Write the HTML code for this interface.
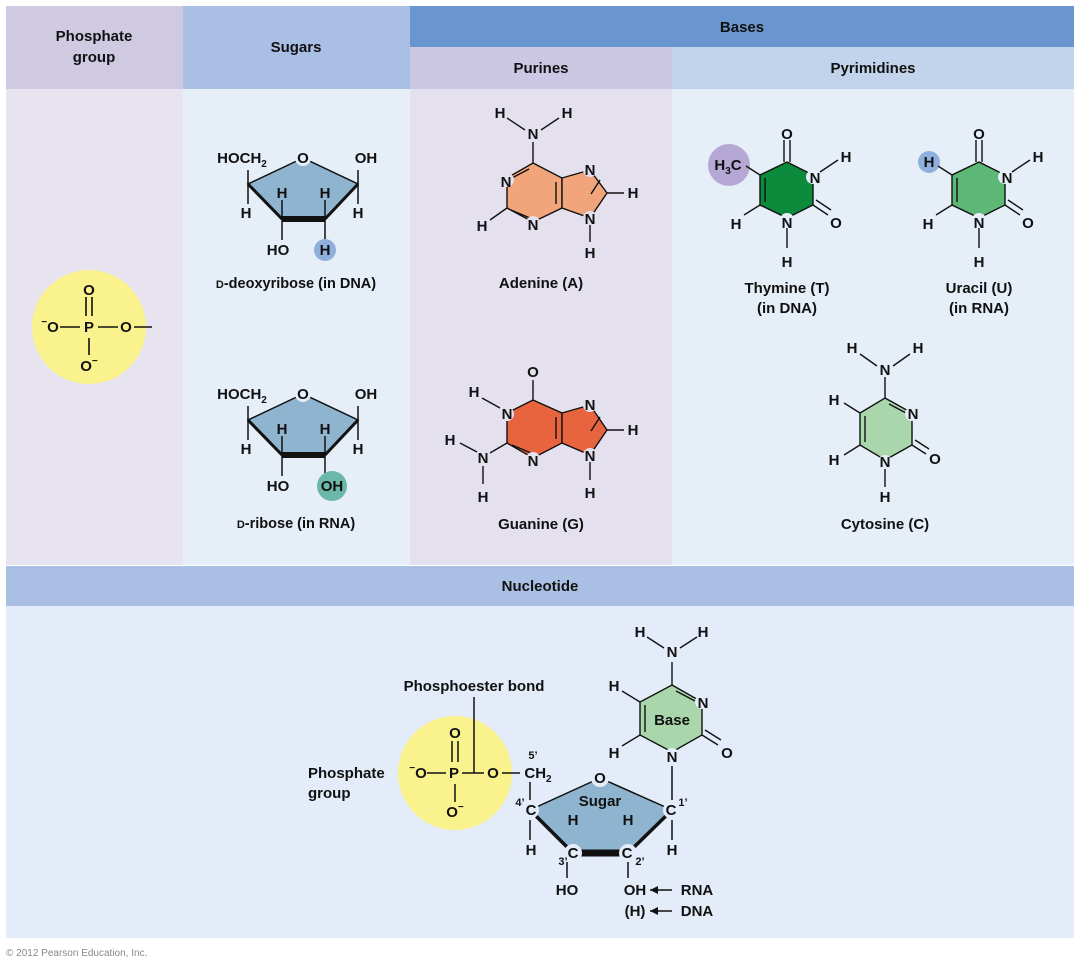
<!DOCTYPE html>
<html><head><meta charset="utf-8"><style>
html,body{margin:0;padding:0;background:#fff;}
svg{display:block;}
text{font-family:"Liberation Sans",Arial,sans-serif;font-weight:bold;fill:#111;}
</style></head><body>
<svg width="1080" height="966" viewBox="0 0 1080 966" xmlns="http://www.w3.org/2000/svg">
<!-- headers -->
<rect x="6" y="6" width="177" height="83" fill="#cfc9e2"/>
<rect x="183" y="6" width="227" height="83" fill="#a9bfe4"/>
<rect x="410" y="6" width="664" height="41" fill="#6a96d0"/>
<rect x="410" y="47" width="262" height="42" fill="#ccc7e2"/>
<rect x="672" y="47" width="402" height="42" fill="#c2d3ec"/>
<!-- bodies -->
<rect x="6" y="89" width="177" height="476" fill="#e7e3ef"/>
<rect x="183" y="89" width="227" height="476" fill="#e6eef8"/>
<rect x="410" y="89" width="262" height="476" fill="#e4e0ee"/>
<rect x="672" y="89" width="402" height="476" fill="#e6eef8"/>
<rect x="6" y="566" width="1068" height="40" fill="#a9c0e4"/>
<rect x="6" y="606" width="1068" height="332" fill="#e3ecf8"/>

<g font-size="15" text-anchor="middle">
<text x="94" y="41">Phosphate</text><text x="94" y="62">group</text>
<text x="296" y="52">Sugars</text>
<text x="742" y="32">Bases</text>
<text x="541" y="73">Purines</text>
<text x="873" y="73">Pyrimidines</text>
<text x="540" y="591">Nucleotide</text>
</g>

<g stroke="#111" stroke-width="1.6" fill="none">
<!-- phosphate -->
</g>
<circle cx="89" cy="327" r="57" fill="#faf28c"/>
<g stroke="#111" stroke-width="1.6">
<line x1="86" y1="297" x2="86" y2="316"/><line x1="92" y1="297" x2="92" y2="316"/>
<line x1="89" y1="338" x2="89" y2="355"/>
<line x1="60" y1="327" x2="80" y2="327"/><line x1="98" y1="327" x2="118" y2="327"/>
<line x1="134" y1="327" x2="152" y2="327"/>
</g>
<g font-size="15" text-anchor="middle">
<text x="89" y="295">O</text><text x="89" y="332">P</text><text x="89" y="371">O<tspan font-size="10" dy="-7">−</tspan></text>
<text x="50" y="332"><tspan font-size="10" dy="-7">−</tspan><tspan dy="7">O</tspan></text>
<text x="126" y="332">O</text>
</g>

<!-- deoxyribose -->
<g id="sug">
<polygon points="303,158 248,184 282,219 325,219 358,184" fill="#8fb4cf" stroke="#111" stroke-width="1.5"/>
<line x1="282" y1="219" x2="325" y2="219" stroke="#111" stroke-width="6"/>
<line x1="248" y1="184" x2="282" y2="219" stroke="#111" stroke-width="3"/>
<line x1="358" y1="184" x2="325" y2="219" stroke="#111" stroke-width="3"/>
<g stroke="#111" stroke-width="1.5">
<line x1="248" y1="170" x2="248" y2="204"/><line x1="358" y1="170" x2="358" y2="204"/>
<line x1="282" y1="200" x2="282" y2="219"/><line x1="325" y1="200" x2="325" y2="219"/>
<line x1="282" y1="219" x2="282" y2="240"/><line x1="325" y1="219" x2="325" y2="240"/>
</g>
<circle cx="303" cy="158" r="8" fill="#e6eef8"/>
<g font-size="15" text-anchor="middle">
<text x="303" y="163">O</text>
<text x="242" y="163">HOCH<tspan font-size="10" dy="4">2</tspan></text>
<text x="366" y="163">OH</text>
<text x="282" y="198">H</text><text x="325" y="198">H</text>
<text x="246" y="218">H</text><text x="358" y="218">H</text>
<text x="278" y="255">HO</text>
</g>
</g>
<circle cx="325" cy="250" r="11" fill="#8fb0dd"/>
<text x="325" y="255" font-size="15" text-anchor="middle">H</text>
<text x="296" y="288" font-size="14.5" text-anchor="middle"><tspan font-size="11">D</tspan>-deoxyribose (in DNA)</text>

<!-- ribose -->
<g transform="translate(0,236)">
<polygon points="303,158 248,184 282,219 325,219 358,184" fill="#8fb4cf" stroke="#111" stroke-width="1.5"/>
<line x1="282" y1="219" x2="325" y2="219" stroke="#111" stroke-width="6"/>
<line x1="248" y1="184" x2="282" y2="219" stroke="#111" stroke-width="3"/>
<line x1="358" y1="184" x2="325" y2="219" stroke="#111" stroke-width="3"/>
<g stroke="#111" stroke-width="1.5">
<line x1="248" y1="170" x2="248" y2="204"/><line x1="358" y1="170" x2="358" y2="204"/>
<line x1="282" y1="200" x2="282" y2="219"/><line x1="325" y1="200" x2="325" y2="219"/>
<line x1="282" y1="219" x2="282" y2="240"/><line x1="325" y1="219" x2="325" y2="238"/>
</g>
<circle cx="303" cy="158" r="8" fill="#e6eef8"/>
<g font-size="15" text-anchor="middle">
<text x="303" y="163">O</text>
<text x="242" y="163">HOCH<tspan font-size="10" dy="4">2</tspan></text>
<text x="366" y="163">OH</text>
<text x="282" y="198">H</text><text x="325" y="198">H</text>
<text x="246" y="218">H</text><text x="358" y="218">H</text>
<text x="278" y="255">HO</text>
</g>
</g>
<circle cx="332" cy="486" r="15" fill="#6bb8a8"/>
<text x="332" y="491" font-size="15" text-anchor="middle">OH</text>
<text x="296" y="528" font-size="14.5" text-anchor="middle"><tspan font-size="11">D</tspan>-ribose (in RNA)</text>

<!-- adenine -->
<polygon points="533,163 562,178 562,208 533,222 507,208 507,178" fill="#f2a57a" stroke="#111" stroke-width="1.4"/>
<polygon points="562,178 590,170 607,193 590,218 562,208" fill="#f2a57a" stroke="#111" stroke-width="1.4"/>
<g stroke="#111" stroke-width="1.4">
<line x1="533" y1="142" x2="533" y2="163"/><line x1="525" y1="130" x2="507" y2="118"/><line x1="541" y1="130" x2="559" y2="118"/>
<line x1="607" y1="193" x2="624" y2="193"/><line x1="590" y1="224" x2="590" y2="242"/><line x1="507" y1="208" x2="490" y2="220"/>
<line x1="556" y1="182" x2="556" y2="204"/><line x1="529" y1="169" x2="512" y2="178"/><line x1="511" y1="210" x2="530" y2="218"/><line x1="600" y1="180" x2="591" y2="194"/>
</g>
<g fill="#e4e0ee"><circle cx="507" cy="180" r="7"/><circle cx="533" cy="223" r="7"/><circle cx="590" cy="170" r="7"/><circle cx="590" cy="218" r="7"/></g>
<g font-size="15" text-anchor="middle">
<text x="533" y="139">N</text><text x="500" y="118">H</text><text x="567" y="118">H</text>
<text x="506" y="187">N</text><text x="533" y="230">N</text><text x="590" y="175">N</text><text x="590" y="224">N</text>
<text x="633" y="198">H</text><text x="590" y="258">H</text><text x="482" y="231">H</text>
<text x="541" y="288">Adenine (A)</text>
</g>

<!-- guanine -->
<polygon points="533,400 562,413 562,443 533,458 507,443 507,413" fill="#e8643f" stroke="#111" stroke-width="1.4"/>
<polygon points="562,413 590,405 607,430 590,455 562,443" fill="#e8643f" stroke="#111" stroke-width="1.4"/>
<g stroke="#111" stroke-width="1.4">
<line x1="533" y1="380" x2="533" y2="400"/>
<line x1="500" y1="408" x2="482" y2="398"/>
<line x1="507" y1="443" x2="490" y2="453"/><line x1="477" y1="452" x2="460" y2="443"/><line x1="483" y1="466" x2="483" y2="484"/>
<line x1="607" y1="430" x2="624" y2="430"/><line x1="590" y1="461" x2="590" y2="480"/>
<line x1="556" y1="417" x2="556" y2="439"/><line x1="512" y1="445" x2="531" y2="453"/><line x1="600" y1="417" x2="591" y2="431"/>
</g>
<g fill="#e4e0ee"><circle cx="507" cy="414" r="7"/><circle cx="533" cy="459" r="7"/><circle cx="590" cy="405" r="7"/><circle cx="590" cy="455" r="7"/></g>
<g font-size="15" text-anchor="middle">
<text x="533" y="377">O</text><text x="507" y="419">N</text><text x="533" y="466">N</text><text x="590" y="410">N</text><text x="590" y="461">N</text>
<text x="474" y="397">H</text><text x="483" y="463">N</text><text x="450" y="445">H</text><text x="483" y="502">H</text>
<text x="633" y="435">H</text><text x="590" y="498">H</text>
<text x="541" y="529">Guanine (G)</text>
</g>

<!-- thymine -->
<circle cx="729" cy="165" r="21" fill="#b5a8d4"/>
<polygon points="787,162 813,175 813,205 787,218 760,205 760,175" fill="#0c8b3c" stroke="#111" stroke-width="1.4"/>
<g stroke="#111" stroke-width="1.4">
<line x1="784" y1="140" x2="784" y2="162"/><line x1="790" y1="140" x2="790" y2="162"/>
<line x1="820" y1="172" x2="838" y2="160"/>
<line x1="813" y1="205" x2="828" y2="215"/><line x1="816" y1="200" x2="831" y2="210"/>
<line x1="787" y1="228" x2="787" y2="248"/>
<line x1="760" y1="205" x2="744" y2="215"/><line x1="760" y1="175" x2="746" y2="166"/>
<line x1="765" y1="178" x2="765" y2="202"/>
</g>
<g fill="#e6eef8"><circle cx="813" cy="177" r="7"/><circle cx="787" cy="220" r="7"/></g>
<g font-size="15" text-anchor="middle">
<text x="787" y="139">O</text><text x="815" y="183">N</text><text x="787" y="228">N</text><text x="836" y="228">O</text>
<text x="846" y="162">H</text><text x="736" y="229">H</text><text x="787" y="267">H</text>
<text x="728" y="170">H<tspan font-size="10" dy="4">3</tspan><tspan dy="-4">C</tspan></text>
<text x="787" y="293">Thymine (T)</text><text x="787" y="313">(in DNA)</text>
</g>

<!-- uracil -->
<circle cx="929" cy="162" r="11" fill="#8fb0dd"/>
<polygon points="979,162 1005,175 1005,205 979,218 952,205 952,175" fill="#5db877" stroke="#111" stroke-width="1.4"/>
<g stroke="#111" stroke-width="1.4">
<line x1="976" y1="140" x2="976" y2="162"/><line x1="982" y1="140" x2="982" y2="162"/>
<line x1="1012" y1="172" x2="1030" y2="160"/>
<line x1="1005" y1="205" x2="1020" y2="215"/><line x1="1008" y1="200" x2="1023" y2="210"/>
<line x1="979" y1="228" x2="979" y2="248"/>
<line x1="952" y1="205" x2="936" y2="215"/><line x1="952" y1="175" x2="938" y2="166"/>
<line x1="957" y1="178" x2="957" y2="202"/>
</g>
<g fill="#e6eef8"><circle cx="1005" cy="177" r="7"/><circle cx="979" cy="220" r="7"/></g>
<g font-size="15" text-anchor="middle">
<text x="979" y="139">O</text><text x="1007" y="183">N</text><text x="979" y="228">N</text><text x="1028" y="228">O</text>
<text x="1038" y="162">H</text><text x="928" y="229">H</text><text x="979" y="267">H</text><text x="929" y="167">H</text>
<text x="979" y="293">Uracil (U)</text><text x="979" y="313">(in RNA)</text>
</g>

<!-- cytosine -->
<polygon points="885,398 912,413 912,445 885,460 860,445 860,413" fill="#a9d6ab" stroke="#111" stroke-width="1.4"/>
<g stroke="#111" stroke-width="1.4">
<line x1="885" y1="377" x2="885" y2="398"/><line x1="877" y1="366" x2="860" y2="354"/><line x1="893" y1="366" x2="910" y2="354"/>
<line x1="860" y1="413" x2="844" y2="403"/><line x1="860" y1="445" x2="844" y2="455"/>
<line x1="912" y1="445" x2="926" y2="454"/><line x1="915" y1="440" x2="929" y2="449"/>
<line x1="885" y1="468" x2="885" y2="487"/>
<line x1="865" y1="416" x2="865" y2="442"/><line x1="889" y1="404" x2="906" y2="413"/>
</g>
<g fill="#e6eef8"><circle cx="912" cy="414" r="7"/><circle cx="885" cy="462" r="7"/></g>
<g font-size="15" text-anchor="middle">
<text x="885" y="375">N</text><text x="852" y="353">H</text><text x="918" y="353">H</text>
<text x="913" y="419">N</text><text x="885" y="467">N</text><text x="935" y="464">O</text>
<text x="834" y="405">H</text><text x="834" y="465">H</text><text x="885" y="502">H</text>
<text x="885" y="529">Cytosine (C)</text>
</g>

<!-- nucleotide -->
<circle cx="455" cy="773" r="57" fill="#faf28c"/>
<g stroke="#111" stroke-width="1.5">
<line x1="452" y1="741" x2="452" y2="762"/><line x1="458" y1="741" x2="458" y2="762"/>
<line x1="455" y1="784" x2="455" y2="802"/>
<line x1="427" y1="773" x2="446" y2="773"/><line x1="462" y1="773" x2="484" y2="773"/>
<line x1="502" y1="773" x2="520" y2="773"/>
<line x1="474" y1="697" x2="474" y2="773"/>
<line x1="530" y1="782" x2="530" y2="800"/><line x1="530" y1="820" x2="530" y2="840"/>
<line x1="567" y1="862" x2="567" y2="878"/><line x1="628" y1="862" x2="628" y2="878"/>
<line x1="573" y1="828" x2="573" y2="843"/><line x1="628" y1="828" x2="628" y2="843"/>
<line x1="672" y1="820" x2="672" y2="840"/><line x1="672" y1="766" x2="672" y2="800"/>
<line x1="650" y1="890" x2="672" y2="890"/><line x1="650" y1="911" x2="672" y2="911"/>
</g>
<polygon points="650,890 658,886 658,894" fill="#111"/><polygon points="650,911 658,907 658,915" fill="#111"/>
<polygon points="600,778 530,810 573,853 628,853 672,810" fill="#8fb4cf" stroke="#111" stroke-width="1.5"/>
<line x1="573" y1="853" x2="628" y2="853" stroke="#111" stroke-width="7"/>
<line x1="530" y1="810" x2="573" y2="853" stroke="#111" stroke-width="3.5"/>
<line x1="672" y1="810" x2="628" y2="853" stroke="#111" stroke-width="3.5"/>
<g fill="#e3ecf8"><circle cx="600" cy="778" r="9"/><circle cx="530" cy="810" r="9"/><circle cx="573" cy="853" r="9"/><circle cx="628" cy="853" r="9"/><circle cx="672" cy="810" r="9"/></g>
<!-- base -->
<polygon points="672,685 702,702 702,735 672,752 640,735 640,702" fill="#a9d6ab" stroke="#111" stroke-width="1.4"/>
<g stroke="#111" stroke-width="1.4">
<line x1="672" y1="662" x2="672" y2="685"/><line x1="664" y1="648" x2="647" y2="637"/><line x1="680" y1="648" x2="697" y2="637"/>
<line x1="640" y1="702" x2="622" y2="691"/><line x1="640" y1="735" x2="622" y2="746"/>
<line x1="702" y1="735" x2="718" y2="745"/><line x1="705" y1="730" x2="721" y2="740"/>
<line x1="645" y1="705" x2="645" y2="732"/><line x1="676" y1="691" x2="695" y2="701"/>
</g>
<g fill="#e3ecf8"><circle cx="702" cy="702" r="7"/><circle cx="672" cy="755" r="7"/></g>
<g font-size="15" text-anchor="middle">
<text x="672" y="657">N</text><text x="640" y="637">H</text><text x="703" y="637">H</text>
<text x="703" y="708">N</text><text x="672" y="762">N</text><text x="727" y="758">O</text>
<text x="614" y="691">H</text><text x="614" y="758">H</text>
<text x="672" y="725">Base</text>
<text x="474" y="691">Phosphoester bond</text>
<text x="455" y="738">O</text><text x="454" y="778">P</text>
<text x="455" y="817">O<tspan font-size="10" dy="-7">−</tspan></text>
<text x="418" y="778"><tspan font-size="10" dy="-7">−</tspan><tspan dy="7">O</tspan></text>
<text x="493" y="778">O</text>
<text x="538" y="778">CH<tspan font-size="10" dy="4">2</tspan></text>
<text x="533" y="759" font-size="11">5’</text>
<text x="600" y="783">O</text><text x="600" y="806">Sugar</text>
<text x="531" y="815">C</text><text x="520" y="806" font-size="11">4’</text>
<text x="573" y="858">C</text><text x="563" y="865" font-size="11">3’</text>
<text x="627" y="858">C</text><text x="640" y="865" font-size="11">2’</text>
<text x="671" y="815">C</text><text x="683" y="806" font-size="11">1’</text>
<text x="573" y="825">H</text><text x="628" y="825">H</text>
<text x="531" y="855">H</text><text x="672" y="855">H</text>
<text x="567" y="895">HO</text><text x="635" y="895">OH</text><text x="635" y="916">(H)</text>
<text x="697" y="895">RNA</text><text x="697" y="916">DNA</text>
</g>
<text x="308" y="778" font-size="15">Phosphate</text><text x="308" y="798" font-size="15">group</text>
<text x="6" y="956" font-size="10" style="font-weight:normal;fill:#888">© 2012 Pearson Education, Inc.</text>
</svg>
</body></html>
